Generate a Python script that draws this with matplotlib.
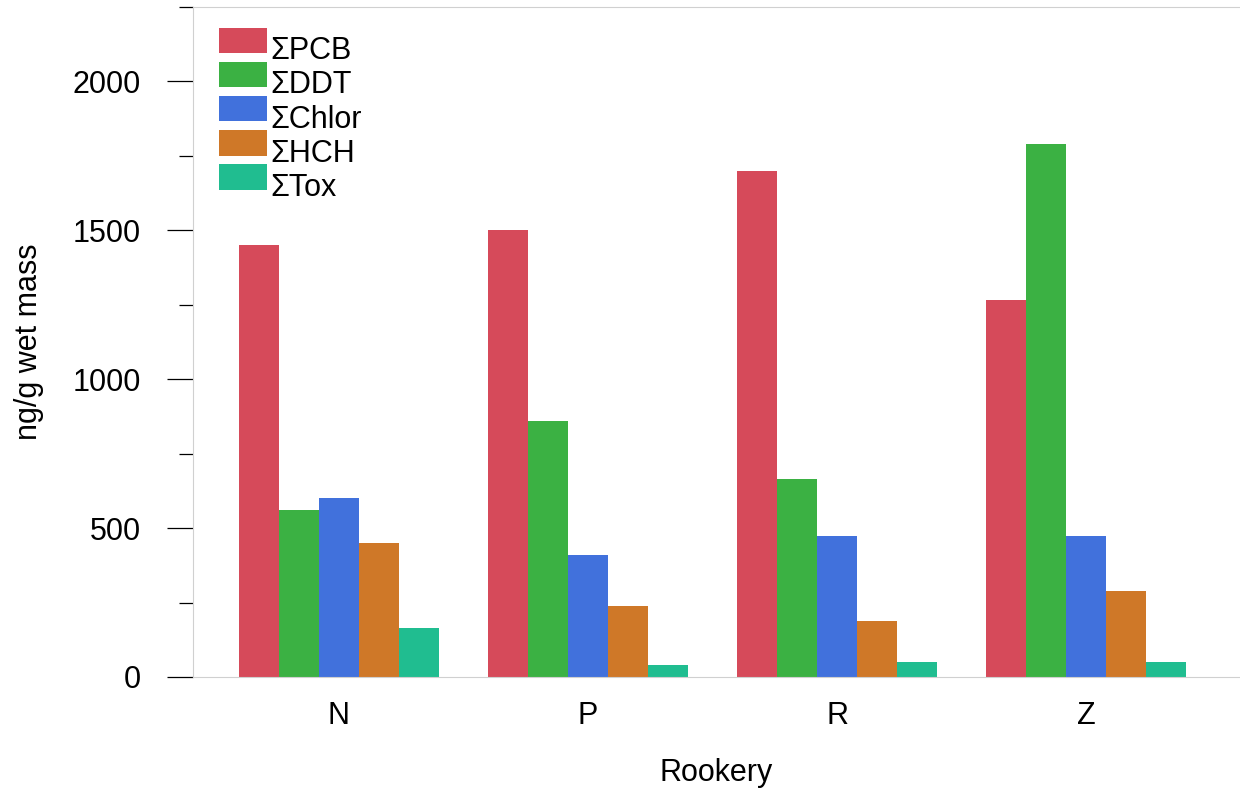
import numpy as np
import matplotlib
matplotlib.use('Agg')
import matplotlib.pyplot as plt
from matplotlib.ticker import MultipleLocator
from matplotlib.patches import Rectangle
from matplotlib.container import BarContainer
from matplotlib.legend_handler import HandlerPatch

# Данные
rookeries = ['N', 'P', 'R', 'Z']
series = ['ΣPCB', 'ΣDDT', 'ΣChlor', 'ΣHCH', 'ΣTox']
pcb = [1450, 1500, 1700, 1265]
ddt = [560, 860, 665, 1790]
chlor = [600, 410, 475, 475]
hch = [450, 238, 188, 290]
tox = [165, 40, 50, 50]
colors = ['#d64a5a', '#3bb143', '#4171dc', '#cf7828', '#20bd90']

plt.rcParams['font.family'] = ['Liberation Sans', 'DejaVu Sans']


# Маркер легенды чуть выше текста
def raised_box(legend, orig_handle, xdescent, ydescent, width, height, fontsize):
    return Rectangle((-xdescent, -ydescent + 6), width, height)


def first_child(legend_handle, orig_handle):
    legend_handle.update_from(orig_handle.patches[0])


fig = plt.figure(figsize=(12.4, 7.93), dpi=100)
ax = fig.add_axes([193 / 1240, 116 / 793, 1 - 193 / 1240, (677 - 7) / 793])

x = np.arange(len(rookeries))
width = 0.16
for i, (vals, name) in enumerate(zip([pcb, ddt, chlor, hch, tox], series)):
    ax.bar(x + (i - 2) * width, vals, width, color=colors[i], label=name)

ax.set_xlim(-0.586, 3.618)
ax.set_ylim(0, 2250)
ax.set_xticks(x)
ax.set_xticklabels(rookeries)
ax.yaxis.set_major_locator(MultipleLocator(500))
ax.yaxis.set_minor_locator(MultipleLocator(250))
ax.tick_params(axis='y', which='major', length=18.7, width=0.9, labelsize=22, pad=19)
ax.tick_params(axis='y', which='minor', length=10, width=0.9)
ax.tick_params(axis='x', length=0, labelsize=22, pad=17)

for side in ['left', 'bottom', 'top']:
    ax.spines[side].set_color('#d0d0d0')
ax.spines['right'].set_visible(False)

ax.set_xlabel('Rookery', fontsize=22, labelpad=20)
ax.set_ylabel('ng/g wet mass', fontsize=22, labelpad=20)

ax.legend(loc='upper left', frameon=False, fontsize=22,
          handlelength=1.57, handleheight=0.9, handletextpad=0.12,
          labelspacing=0.13, borderaxespad=0, bbox_to_anchor=(0.013, 0.975),
          handler_map={BarContainer: HandlerPatch(patch_func=raised_box,
                                                  update_func=first_child)})

fig.savefig('out.png', dpi=100)
